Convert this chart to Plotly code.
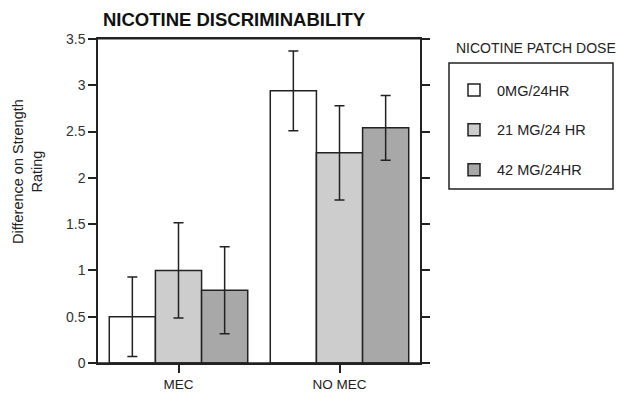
import plotly.graph_objects as go

categories = ["MEC", "NO MEC"]
series_names = ["0MG/24HR", "21 MG/24 HR", "42 MG/24HR"]
values_0mg = [0.50, 2.94]
values_21mg = [1.00, 2.27]
values_42mg = [0.785, 2.54]
err_0mg = [0.43, 0.43]
err_21mg = [0.515, 0.51]
err_42mg = [0.47, 0.35]
colors = ["#ffffff", "#cdcdcd", "#a8a8a8"]
y_ticks = [0, 0.5, 1, 1.5, 2, 2.5, 3, 3.5]
y_tick_labels = ["0", "0.5", "1", "1.5", "2", "2.5", "3", "3.5"]

FONT = "Liberation Sans, Arial, Helvetica, sans-serif"
INK = "#222222"

# plot area in pixels: x 98..420, y 39..363
L, R, T, B = 98, 420, 39, 363
W, H = R - L, B - T


def px(xp):
    return (xp - L) / W


def py(yp):
    return (B - yp) / H


fig = go.Figure()
for i, (name, vals, errs) in enumerate(zip(series_names,
                                           [values_0mg, values_21mg, values_42mg],
                                           [err_0mg, err_21mg, err_42mg])):
    fig.add_trace(go.Bar(
        x=categories, y=vals, name=name,
        marker=dict(color=colors[i], line=dict(color=INK, width=1.5)),
        error_y=dict(type="data", array=errs, visible=True, color=INK,
                     thickness=1.5, width=5),
        legendgroup=f"g{i}",
    ))

fig.update_layout(
    width=617, height=394,
    margin=dict(l=L, r=617 - R, t=T, b=394 - B, autoexpand=False),
    paper_bgcolor="white", plot_bgcolor="white",
    font=dict(family=FONT, color=INK, size=14),
    barmode="group", bargap=0.14, bargroupgap=0,
    title=dict(text="<b>NICOTINE DISCRIMINABILITY</b>",
               font=dict(family=FONT, size=18.5, color="#111111"),
               x=px(234), xref="paper", xanchor="center",
               y=1 - 19.5 / 394, yref="container", yanchor="middle"),
    showlegend=True,
    legend=dict(x=px(451), xanchor="left",
                y=py(74), yanchor="top",
                borderwidth=0, itemwidth=36,
                font=dict(family=FONT, size=14.5, color=INK),
                tracegroupgap=18, traceorder="grouped",
                bgcolor="rgba(0,0,0,0)"),
    xaxis=dict(showline=True, linecolor=INK, linewidth=1.5, mirror=True,
               ticks="outside", ticklen=8, tickcolor=INK, tickwidth=1.5,
               tickfont=dict(size=13.5), showgrid=False, zeroline=False,
               automargin=False),
    yaxis=dict(range=[0, 3.5], tickvals=y_ticks, ticktext=y_tick_labels,
               showline=True, linecolor=INK, linewidth=1.5, mirror="ticks",
               ticks="outside", ticklen=8, tickcolor=INK, tickwidth=1.5,
               tickfont=dict(size=14, color="#333333"),
               showgrid=False, zeroline=False, automargin=False),
)

# legend frame
fig.add_shape(type="rect", xref="paper", yref="paper",
              x0=px(449), x1=px(613), y0=py(189), y1=py(63),
              line=dict(color=INK, width=1.5), fillcolor="rgba(0,0,0,0)")
# axis line extensions beyond the frame
fig.add_shape(type="line", xref="paper", yref="paper",
              x0=px(91), x1=px(430), y0=0, y1=0,
              line=dict(color=INK, width=1.5))
fig.add_shape(type="line", xref="paper", yref="paper",
              x0=px(97), x1=px(428), y0=1, y1=1,
              line=dict(color=INK, width=1.2))

fig.add_annotation(text="Difference on Strength<br>Rating",
                   xref="paper", yref="paper",
                   x=px(27), y=py(172),
                   xanchor="center", yanchor="middle",
                   textangle=-90, showarrow=False,
                   font=dict(family=FONT, size=14.5, color=INK))
fig.add_annotation(text="NICOTINE PATCH DOSE",
                   xref="paper", yref="paper",
                   x=px(454), y=py(48),
                   xanchor="left", yanchor="middle", showarrow=False,
                   font=dict(family=FONT, size=14, color=INK))

fig.write_html("out.html")
